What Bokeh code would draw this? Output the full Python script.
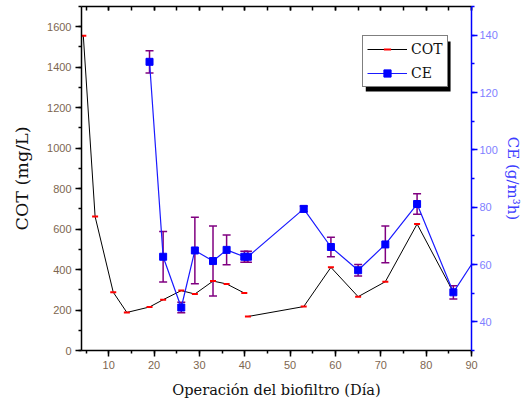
from bokeh.plotting import figure
from bokeh.models import (Range1d, LinearAxis, SingleIntervalTicker, Whisker, ColumnDataSource,
                          Legend, LegendItem, BoxAnnotation, TeeHead)
from bokeh.embed import file_html
from bokeh.resources import INLINE

# ---- data ----
cot_days_a = [4.4, 7, 11, 14, 19, 22, 26, 29, 33, 36, 39.9]
cot_vals_a = [1555, 662, 288, 188, 215, 251, 296, 279, 343, 329, 284]
cot_days_b = [40.7, 53, 59, 65, 71, 78, 86]
cot_vals_b = [168, 217, 411, 266, 340, 625, 288]

ce_days = [19, 22, 26, 29, 33, 36, 39.9, 40.7, 53, 59, 65, 71, 78, 86, 90]
ce_vals = [130.7, 62.7, 45.0, 64.9, 61.2, 65.1, 62.7, 62.7, 79.4, 66.1, 58.0, 67.0, 81.1, 50.3, 60.0]
ce_err = [3.9, 8.8, 1.8, 11.6, 12.2, 5.2, 1.9, 1.9, 1.0, 3.4, 2.0, 6.4, 3.6, 2.3, 0.0]

x_ticks_interval = 10
cot_ticks_interval = 200
ce_ticks_interval = 20

# ---- layout ----
W, H = 524, 400
BL, BR, BT, BB = 81, 52, 6, 50
X0, X1 = 4, 90
Y0, Y1 = 0, 1700
CE0, CE1 = 30, 150

TICK_COLOR = "#7d6650"
SERIF = "DejaVu Serif"
SANS = "Liberation Sans"

p = figure(width=W, height=H, output_backend="svg", toolbar_location=None,
           x_range=Range1d(X0, X1), y_range=Range1d(Y0, Y1),
           min_border_left=BL, min_border_right=BR, min_border_top=BT, min_border_bottom=BB)
p.grid.visible = False
p.outline_line_color = None
p.background_fill_color = "white"
p.border_fill_color = "white"

p.extra_y_ranges = {"ce": Range1d(CE0, CE1)}

def style_ticks(ax):
    ax.major_tick_out = 6
    ax.major_tick_in = 0
    ax.minor_tick_out = 3
    ax.minor_tick_in = 0
    ax.major_tick_line_width = 1.5
    ax.minor_tick_line_width = 1.5
    ax.axis_line_width = 1.5

# bottom axis
xa = p.xaxis[0]
xa.ticker = SingleIntervalTicker(interval=x_ticks_interval, num_minor_ticks=2)
xa.axis_label = "Operación del biofiltro (Día)"
xa.axis_label_text_font = SERIF
xa.axis_label_text_font_size = "14.6px"
xa.axis_label_text_font_style = "normal"
xa.axis_label_text_color = "#111111"
xa.axis_label_standoff = 9
xa.major_label_text_font = SANS
xa.major_label_text_font_size = "11px"
xa.major_label_text_color = TICK_COLOR
xa.major_label_standoff = 4
style_ticks(xa)

# left axis
ya = p.yaxis[0]
ya.ticker = SingleIntervalTicker(interval=cot_ticks_interval, num_minor_ticks=2)
ya.axis_label = "COT (mg/L)"
ya.axis_label_text_font = SERIF
ya.axis_label_text_font_size = "17.5px"
ya.axis_label_text_font_style = "normal"
ya.axis_label_text_color = "#111111"
ya.axis_label_standoff = 12
ya.major_label_text_font = SANS
ya.major_label_text_font_size = "11px"
ya.major_label_text_color = TICK_COLOR
ya.major_label_standoff = 4
style_ticks(ya)

# top axis (ticks inside, no labels)
top = LinearAxis(ticker=SingleIntervalTicker(interval=x_ticks_interval, num_minor_ticks=2),
                 major_label_text_font_size="1px", major_label_text_color=None,
                 major_label_standoff=0,
                 major_tick_out=0, major_tick_in=4, minor_tick_out=0, minor_tick_in=4,
                 axis_line_width=1.5, major_tick_line_width=1.5, minor_tick_line_width=1.5)
p.add_layout(top, "above")

# right axis
ra = LinearAxis(y_range_name="ce", ticker=SingleIntervalTicker(interval=ce_ticks_interval, num_minor_ticks=2))
ra.axis_label = "CE (g/m³h)"
ra.axis_label_text_font = SERIF
ra.axis_label_text_font_size = "15px"
ra.axis_label_text_font_style = "normal"
ra.axis_label_text_color = "#3d3dff"
ra.axis_label_standoff = 3
ra.major_label_text_font = SANS
ra.major_label_text_font_size = "11px"
ra.major_label_text_color = "#7f7fff"
ra.major_label_standoff = 2
style_ticks(ra)
ra.axis_line_color = "#0000ff"
ra.major_tick_line_color = "#0000ff"
ra.minor_tick_line_color = "#0000ff"
p.add_layout(ra, "right")

# ---- COT series ----
src_a = ColumnDataSource(dict(x=cot_days_a, y=cot_vals_a))
src_b = ColumnDataSource(dict(x=cot_days_b, y=cot_vals_b))
cot_line_a = p.line("x", "y", source=src_a, line_color="black", line_width=1)
cot_line_b = p.line("x", "y", source=src_b, line_color="black", line_width=1)
cot_pts_a = p.scatter("x", "y", source=src_a, marker="dash", size=6, line_color="red", line_width=2)
p.scatter("x", "y", source=src_b, marker="dash", size=6, line_color="red", line_width=2)

# ---- CE series ----
ce_src = ColumnDataSource(dict(x=ce_days, y=ce_vals))
n = len(ce_days) - 1
ce_mk_src = ColumnDataSource(dict(x=ce_days[:n], y=ce_vals[:n],
                                  up=[v + e for v, e in zip(ce_vals[:n], ce_err[:n])],
                                  lo=[v - e for v, e in zip(ce_vals[:n], ce_err[:n])]))
ce_line = p.line("x", "y", source=ce_src, y_range_name="ce", line_color="#1a1aff", line_width=1.2)
wh = Whisker(source=ce_mk_src, base="x", upper="up", lower="lo", y_range_name="ce",
             line_color="#800080", line_width=1.5,
             upper_head=TeeHead(size=8, line_color="#800080", line_width=1.5),
             lower_head=TeeHead(size=8, line_color="#800080", line_width=1.5))
p.add_layout(wh)
ce_pts = p.scatter("x", "y", source=ce_mk_src, y_range_name="ce", marker="square", size=7,
                   fill_color="#0000ff", line_color="#0000ff")

# ---- legend with drop shadow ----
LEG_X, LEG_Y, LEG_W, LEG_H, SH = 281, 263, 85, 50, 4
frame_w = W - BL - BR
frame_h = H - BT - BB
px2x = lambda px: X0 + px * (X1 - X0) / frame_w
px2y = lambda py: Y0 + py * (Y1 - Y0) / frame_h
shadow = BoxAnnotation(left=px2x(LEG_X + SH), right=px2x(LEG_X + LEG_W + SH),
                       bottom=px2y(LEG_Y - SH), top=px2y(LEG_Y + LEG_H - SH),
                       fill_color="black", fill_alpha=1, line_color=None, level="annotation")
p.add_layout(shadow)

legend = Legend(items=[LegendItem(label="COT", renderers=[cot_line_a, cot_pts_a]),
                       LegendItem(label="CE", renderers=[ce_line, ce_pts])],
                location=(LEG_X, LEG_Y), orientation="vertical",
                glyph_width=40, glyph_height=18, label_standoff=4, padding=4, spacing=6, margin=0,
                label_text_font=SERIF, label_text_font_size="14px", label_text_color="#111111",
                border_line_color="black", border_line_width=1, background_fill_color="white",
                background_fill_alpha=1)
p.add_layout(legend)

open("out.html", "w").write(file_html(p, INLINE))
